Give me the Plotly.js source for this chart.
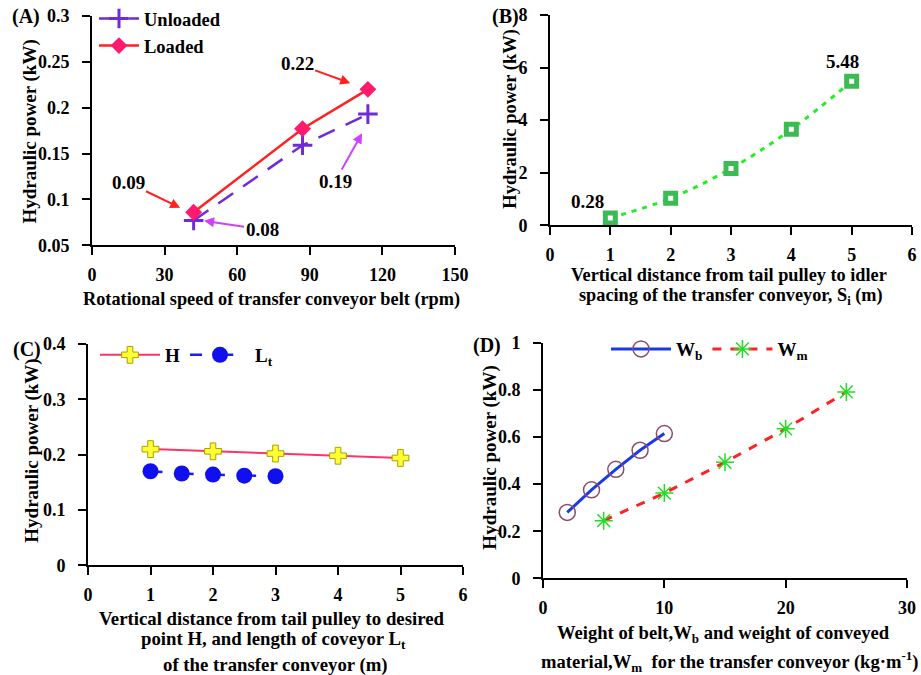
<!DOCTYPE html>
<html><head><meta charset="utf-8">
<script src="https://cdn.plot.ly/plotly-3.0.1.min.js"></script>
<style>html,body{margin:0;padding:0;background:#fff}</style>
</head><body><div id="chart" style="width:921px;height:675px"></div>
<script>
// Panel A
const speedRpm = [42, 87, 114];
const unloadedKW = [0.077, 0.159, 0.193];
const loadedKW = [0.086, 0.177, 0.220];
// Panel B
const idlerSpacing = [1, 2, 3, 4, 5];
const powerB = [0.28, 1.03, 2.16, 3.65, 5.48];
// Panel C
const distH = [1, 2, 3, 4, 5];
const powerH = [0.210, 0.206, 0.202, 0.198, 0.194];
const lengthLt = [1, 1.5, 2, 2.5, 3];
const powerLt = [0.170, 0.166, 0.164, 0.162, 0.161];
// Panel D
const beltW = [2, 4, 6, 8, 10];
const powerWb = [0.28, 0.376, 0.463, 0.544, 0.615];
const materialW = [5, 10, 15, 20, 25];
const powerWm = [0.245, 0.362, 0.493, 0.635, 0.792];

const W = 921, H = 675;
const fx = p => p / W, fy = p => 1 - p / H;
const F = 'Liberation Serif';
const BF = (s) => ({family: F, size: s, color: '#000', weight: 700});
const tickFont = BF(18);

function ax(extra, isX) {
  return Object.assign({
    showline: true, linewidth: 2, linecolor: '#000', ticks: 'outside',
    ticklen: 8, tickwidth: 2, tickcolor: '#000', showgrid: false, zeroline: false,
    tickfont: tickFont, fixedrange: true, ticklabelstandoff: isX ? 4 : 9
  }, extra);
}

const traces = [
  {x: speedRpm, y: unloadedKW, name: 'Unloaded', mode: 'lines+markers', xaxis: 'x', yaxis: 'y', legend: 'legend',
   line: {color: '#6f2bd9', width: 2.5, dash: '18px,12px'},
   marker: {symbol: 'cross-thin-open', size: 14, color: '#6f2bd9', line: {width: 3, color: '#6f2bd9'}}},
  {x: speedRpm, y: loadedKW, name: 'Loaded', mode: 'lines+markers', xaxis: 'x', yaxis: 'y', legend: 'legend',
   line: {color: '#ff2020', width: 2.5},
   marker: {symbol: 'diamond', size: 13, color: '#ff1a6e'}},
  {x: idlerSpacing, y: powerB, name: 'Si', mode: 'lines+markers', xaxis: 'x2', yaxis: 'y2', showlegend: false,
   line: {color: '#22ee22', width: 3, dash: '5px,6px', shape: 'spline'},
   marker: {symbol: 'square', size: 10, color: '#ffffff', line: {width: 5, color: '#3cba54'}}},
  {x: distH, y: powerH, name: 'H', mode: 'lines+markers', xaxis: 'x3', yaxis: 'y3', legend: 'legend2',
   line: {color: '#ff3366', width: 2},
   marker: {symbol: 'cross', size: 14, color: '#ffff33', line: {width: 1, color: '#a8a000'}}},
  {x: lengthLt, y: powerLt, name: 'L<sub>t</sub>', mode: 'lines+markers', xaxis: 'x3', yaxis: 'y3', legend: 'legend2',
   line: {color: '#1a1aff', width: 2.5, dash: '12px,19.25px'},
   marker: {symbol: 'circle', size: 16, color: '#1010ee'}},
  {x: beltW, y: powerWb, name: 'W<sub>b</sub>', mode: 'lines+markers', xaxis: 'x4', yaxis: 'y4', legend: 'legend3',
   line: {color: '#1a3ae8', width: 3},
   marker: {symbol: 'circle-open', size: 16, color: '#884d6e', line: {width: 1.5}}},
  {x: materialW, y: powerWm, name: 'W<sub>m</sub>', mode: 'lines+markers', xaxis: 'x4', yaxis: 'y4', legend: 'legend3',
   line: {color: '#ff2020', width: 3, dash: 'dash'},
   marker: {symbol: 'asterisk-open', size: 15, color: '#22dd22', line: {width: 1.5}}}
];

function ann(text, x, y, size, extra) {
  return Object.assign({text: text, xref: 'paper', yref: 'paper', x: fx(x), y: fy(y),
    showarrow: false, font: BF(size || 17),
    xanchor: 'center', yanchor: 'middle'}, extra || {});
}
function arrow(text, xd, yd, axp, ayp, color) {
  return {text: text, x: xd, y: yd, xref: 'x', yref: 'y', ax: axp, ay: ayp,
    showarrow: true, arrowhead: 2, arrowsize: 1, arrowwidth: 2, arrowcolor: color, standoff: 2,
    font: BF(19)};
}

const layout = {
  width: W, height: H, margin: {l: 0, r: 0, t: 0, b: 0},
  paper_bgcolor: '#fff', plot_bgcolor: 'rgba(0,0,0,0)',
  font: {family: F, color: '#000'},
  xaxis: ax({domain: [fx(92), fx(455)], range: [0, 150], dtick: 30, anchor: 'y'}, true),
  yaxis: ax({domain: [fy(244), fy(14)], range: [0.05, 0.3], dtick: 0.05, anchor: 'x'}),
  xaxis2: ax({domain: [fx(550), fx(912)], range: [0, 6], dtick: 1, anchor: 'y2'}, true),
  yaxis2: ax({domain: [fy(224), fy(13)], range: [0, 8], dtick: 2, anchor: 'x2'}),
  xaxis3: ax({domain: [fx(88), fx(463)], range: [0, 6], dtick: 1, anchor: 'y3'}, true),
  yaxis3: ax({domain: [fy(565), fy(343)], range: [0, 0.4], dtick: 0.1, anchor: 'x3'}),
  xaxis4: ax({domain: [fx(543), fx(907)], range: [0, 30], dtick: 10, anchor: 'y4'}, true),
  yaxis4: ax({domain: [fy(578), fy(342)], range: [0, 1], dtick: 0.2, anchor: 'x4'}),
  legend: {x: fx(94), y: fy(-2), xanchor: 'left', yanchor: 'top', bgcolor: 'rgba(0,0,0,0)',
    font: BF(18.5), itemwidth: 40, tracegroupgap: 0},
  legend2: {x: fx(95), y: fy(335), xanchor: 'left', yanchor: 'top', orientation: 'h', bgcolor: 'rgba(0,0,0,0)',
    font: BF(19), itemwidth: 60},
  legend3: {x: fx(606), y: fy(329), xanchor: 'left', yanchor: 'top', orientation: 'h', bgcolor: 'rgba(0,0,0,0)',
    font: BF(19), itemwidth: 60},
  annotations: [
    ann('(A)', 26, 15, 20),
    ann('(B)', 505, 15, 20),
    ann('(C)', 27, 349, 20),
    ann('(D)', 487, 345, 20),
    ann('Hydraulic power (kW)', 30, 130, 19, {textangle: -90}),
    ann('Hydraulic power (kW)', 511, 117, 18.5, {textangle: -90}),
    ann('Hydraulic power (kW)', 32, 450, 19, {textangle: -90}),
    ann('Hydraulic power (kW)', 490, 457, 19, {textangle: -90}),
    ann('Rotational speed of transfer conveyor belt (rpm)', 271, 298, 18.3),
    ann('Vertical distance from tail pulley to idler', 729, 274, 18.3),
    ann('spacing of the transfer conveyor, S<sub>i</sub> (m)', 731, 295, 18.3),
    ann('Vertical distance from tail pulley to desired', 272, 618, 18.8),
    ann('point H, and length of coveyor L<sub>t</sub>', 273, 640, 18.8),
    ann('of the transfer conveyor (m)', 275, 665, 18.8),
    ann('Weight of belt,W<sub>b</sub> and weight of conveyed', 723, 634, 18.6),
    ann('material,W<sub>m</sub>  for the transfer conveyor (kg·m<sup>-1</sup>)', 729, 661, 18.6),
    ann('0.28', 587, 200, 19),
    ann('5.48', 842, 60, 19),
    arrow('0.22', 107.5, 0.226, -55, -20, '#ff2020'),
    arrow('0.09', 37.2, 0.090, -54, -26, '#ff2020'),
    arrow('0.19', 112, 0.174, -28, 50, '#d040ff'),
    arrow('0.08', 45.5, 0.077, 60, 9, '#d040ff')
  ]
};

Plotly.newPlot('chart', traces, layout, {displayModeBar: false, staticPlot: true});
</script></body></html>
